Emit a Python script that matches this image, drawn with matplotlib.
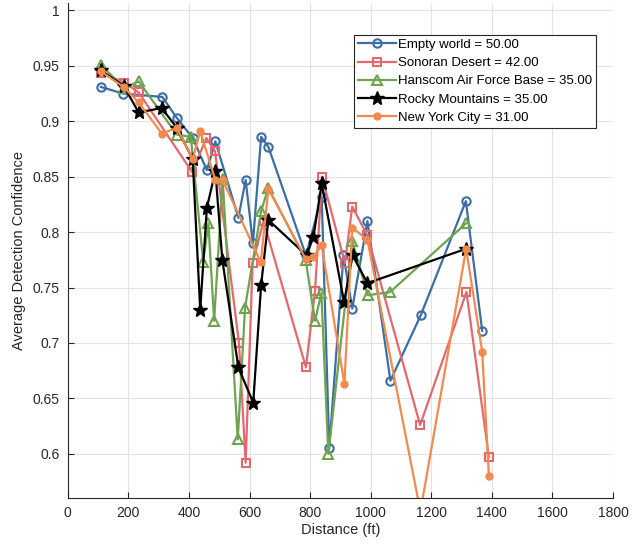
import matplotlib
matplotlib.use("Agg")
import matplotlib.pyplot as plt

plt.rcParams["font.family"] = ["Liberation Sans", "DejaVu Sans"]

# data
empty_x = [109, 183, 312, 360, 412, 459, 487, 563, 587, 611, 638, 662, 786, 838, 863, 910, 939, 989, 1065, 1165, 1314, 1368]
empty_y = [0.931, 0.925, 0.922, 0.903, 0.885, 0.856, 0.882, 0.813, 0.847, 0.790, 0.886, 0.877, 0.779, 0.832, 0.605, 0.779, 0.731, 0.810, 0.666, 0.725, 0.828, 0.711]

sonoran_x = [109, 186, 234, 411, 457, 486, 565, 587, 610, 646, 786, 816, 839, 915, 939, 989, 1163, 1316, 1390]
sonoran_y = [0.944, 0.935, 0.926, 0.854, 0.885, 0.873, 0.700, 0.592, 0.772, 0.810, 0.678, 0.747, 0.850, 0.772, 0.823, 0.797, 0.626, 0.746, 0.597]

hanscom_x = [109, 186, 234, 360, 406, 447, 464, 483, 511, 561, 585, 638, 662, 785, 816, 837, 860, 939, 990, 1064, 1315]
hanscom_y = [0.951, 0.930, 0.936, 0.888, 0.886, 0.773, 0.808, 0.720, 0.848, 0.613, 0.732, 0.819, 0.840, 0.775, 0.720, 0.745, 0.600, 0.792, 0.743, 0.746, 0.808]

rocky_x = [109, 184, 234, 310, 360, 412, 437, 459, 487, 510, 563, 612, 638, 662, 788, 811, 838, 912, 940, 989, 1315]
rocky_y = [0.946, 0.932, 0.908, 0.912, 0.894, 0.866, 0.730, 0.822, 0.855, 0.775, 0.678, 0.646, 0.752, 0.811, 0.779, 0.796, 0.844, 0.737, 0.779, 0.754, 0.785]

nyc_x = [109, 184, 234, 310, 360, 412, 437, 487, 511, 637, 662, 785, 811, 838, 913, 939, 989, 1164, 1315, 1368, 1390]
nyc_y = [0.945, 0.931, 0.917, 0.889, 0.894, 0.866, 0.891, 0.847, 0.847, 0.773, 0.839, 0.776, 0.778, 0.788, 0.663, 0.804, 0.793, 0.548, 0.785, 0.692, 0.580]

labels = ["Empty world = 50.00", "Sonoran Desert = 42.00", "Hanscom Air Force Base = 35.00",
          "Rocky Mountains = 35.00", "New York City = 31.00"]

fig = plt.figure(figsize=(6.34, 5.45), dpi=100)
ax = fig.add_axes([0.107, 0.087, 0.860, 0.908])

lw = 1.6
ax.plot(empty_x, empty_y, "-o", color="#3B6EA5", lw=lw, ms=6, mfc="none", mew=1.5, label=labels[0])
ax.plot(sonoran_x, sonoran_y, "-s", color="#E3696E", lw=lw, ms=6, mfc="none", mew=1.5, label=labels[1])
ax.plot(hanscom_x, hanscom_y, "-^", color="#6EA34F", lw=lw, ms=7, mfc="none", mew=1.5, label=labels[2])
ax.plot(rocky_x, rocky_y, "-*", color="black", lw=lw, ms=10, label=labels[3])
ax.plot(nyc_x, nyc_y, "-o", color="#F28A4E", lw=lw, ms=5, label=labels[4])

ax.set_xlim(0, 1800)
ax.set_ylim(0.5605, 1.007)
ax.set_xticks(range(0, 1801, 200))
ax.set_yticks([0.6, 0.65, 0.7, 0.75, 0.8, 0.85, 0.9, 0.95, 1.0])
ax.set_yticklabels(["0.6", "0.65", "0.7", "0.75", "0.8", "0.85", "0.9", "0.95", "1"])
ax.grid(True, color="#E3E3E3", lw=0.8)
ax.set_axisbelow(True)
for s in ["top", "right"]:
    ax.spines[s].set_visible(False)
for s in ["left", "bottom"]:
    ax.spines[s].set_color("#262626")
    ax.spines[s].set_linewidth(0.8)
ax.tick_params(direction="in", length=4, labelsize=10, colors="#262626", pad=6)
ax.set_xlabel("Distance (ft)", fontsize=10.5, color="#262626", labelpad=2)
ax.set_ylabel("Average Detection Confidence", fontsize=10.5, color="#262626", labelpad=5)

leg = ax.legend(loc="upper left", bbox_to_anchor=(0.525, 0.935), borderaxespad=0,
                fontsize=9.5, frameon=True, fancybox=False, edgecolor="#262626",
                handlelength=2.9, borderpad=0.3, labelspacing=0.45, handletextpad=0.15,
                framealpha=1)
leg.get_frame().set_linewidth(0.8)

fig.savefig("out.png", dpi=100)
